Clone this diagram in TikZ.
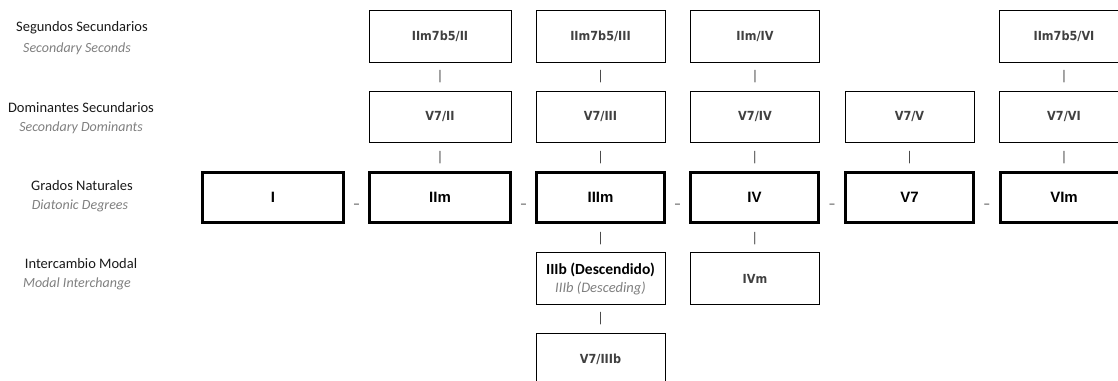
\documentclass[tikz,border=0pt]{standalone}
\usepackage{fontspec}
\setmainfont{Carlito}
\newfontfamily\boxfont[FakeStretch=0.9]{DejaVu Sans}
\newfontfamily\degfont{Liberation Sans}
\usetikzlibrary{calc}
\definecolor{boxtext}{HTML}{404040}
\definecolor{subgray}{HTML}{7F7F7F}
\tikzset{
  thinbox/.style={draw=black, line width=0.9pt, minimum height=51.5pt, inner sep=0pt,
    text=boxtext, font=\boxfont\bfseries\fontsize{12.5}{14}\selectfont},
  thickbox/.style={draw=black, line width=3.4pt, minimum height=49.6pt, inner sep=0pt,
    text=black, font=\degfont\bfseries\fontsize{15}{18}\selectfont},
  vbar/.style={inner sep=0pt, text=boxtext, font=\fontsize{14}{16}\selectfont},
  hdash/.style={inner sep=0pt, text=boxtext, font=\fontsize{14}{16}\selectfont, anchor=base},
  rowlabel/.style={inner sep=0pt, text height=0.7em, text depth=0.2em, text=black!90,
    font=\fontsize{14.5}{17}\selectfont},
  rowsub/.style={inner sep=0pt, text height=0.7em, text depth=0.2em, text=subgray,
    font=\itshape\fontsize{14}{17}\selectfont},
}
\begin{document}
\begin{tikzpicture}[x=1pt, y=-1pt]
\clip (0,0) rectangle (1118,380);
\useasboundingbox (0,0) rectangle (1118,380);

% row labels
\node[rowlabel] (l1a) at (82,29) {Segundos Secundarios};
\node[rowsub]   (l1b) at (77,50) {Secondary Seconds};
\node[rowlabel] (l2a) at (81,110) {Dominantes Secundarios};
\node[rowsub]   (l2b) at (81,129) {Secondary Dominants};
\node[rowlabel] (l3a) at (82,188) {Grados Naturales};
\node[rowsub]   (l3b) at (80,207) {Diatonic Degrees};
\node[rowlabel] (l4a) at (81,266) {Intercambio Modal};
\node[rowsub]   (l4b) at (77,285) {Modal Interchange};

% row 1: secondary seconds
\node[thinbox, minimum width=142pt] (s2) at (440,36.5) {IIm7b5/II};
\node[thinbox, minimum width=129pt] (s3) at (600.5,36.5) {IIm7b5/III};
\node[thinbox, minimum width=129pt] (s4) at (755,36.5) {IIm/IV};
\node[thinbox, minimum width=129pt] (s6) at (1064,36.5) {IIm7b5/VI};

% row 2: secondary dominants
\node[thinbox, minimum width=142pt] (d2) at (440,117) {V7/II};
\node[thinbox, minimum width=129pt] (d3) at (600.5,117) {V7/III};
\node[thinbox, minimum width=129pt] (d4) at (755,117) {V7/IV};
\node[thinbox, minimum width=129pt] (d5) at (909.5,117) {V7/V};
\node[thinbox, minimum width=129pt] (d6) at (1064,117) {V7/VI};

% row 3: diatonic degrees
\node[thickbox, minimum width=140.6pt] (g1) at (273,197.5) {I};
\node[thickbox, minimum width=140.6pt] (g2) at (440,197.5) {IIm};
\node[thickbox, minimum width=127.6pt] (g3) at (600.5,197.5) {IIIm};
\node[thickbox, minimum width=127.6pt] (g4) at (754.5,197.5) {IV};
\node[thickbox, minimum width=127.6pt] (g5) at (909.5,197.5) {V7};
\node[thickbox, minimum width=127.6pt] (g6) at (1064,197.5) {VIm};

% row 4: modal interchange
\node[thinbox, minimum width=129pt, align=center, text=black,
  font=\bfseries\fontsize{15.5}{19}\selectfont] (m3) at (600.5,278.5)
  {IIIb (Descendido)\\[-1pt]{\mdseries\itshape\color{subgray}\fontsize{14.5}{17}\selectfont IIIb (Desceding)}};
\node[thinbox, minimum width=129pt] (m4) at (755,278.5) {IVm};

% row 5
\node[thinbox, minimum width=129pt] (m5) at (600.5,359) {V7/IIIb};

% vertical bar connectors
\foreach \a/\b/\n in {s2/d2/v1, s3/d3/v2, s4/d4/v3, s6/d6/v4,
                      d2/g2/v5, d3/g3/v6, d4/g4/v7, d5/g5/v8, d6/g6/v9,
                      g3/m3/v10, g4/m4/v11, m3/m5/v12}
  \node[vbar] (\n) at ($(\a.south)!0.5!(\b.north)$) {|};

% horizontal dash connectors
\foreach \a/\b/\n in {g1/g2/h1, g2/g3/h2, g3/g4/h3, g4/g5/h4, g5/g6/h5}
  \node[hdash, yshift=-10.5pt] (\n) at ($(\a.east)!0.5!(\b.west)$) {–};
\end{tikzpicture}
\end{document}
